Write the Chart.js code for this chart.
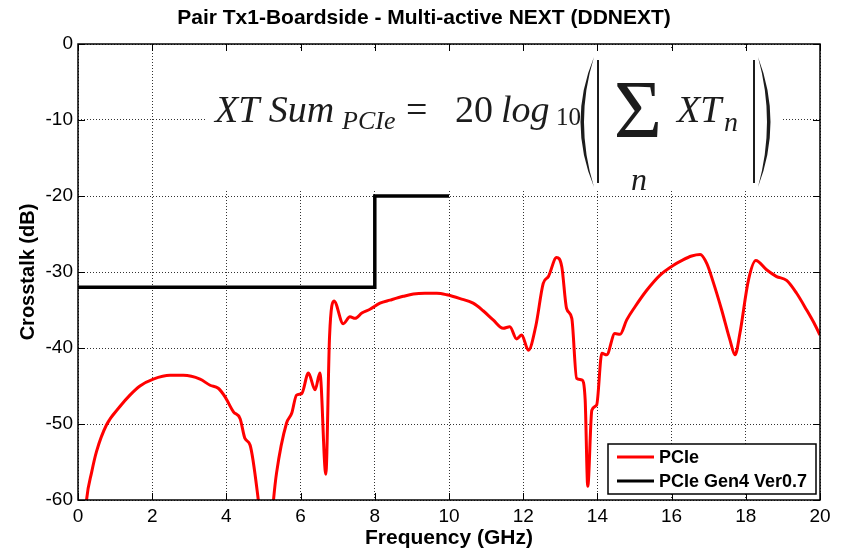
<!DOCTYPE html>
<html>
<head>
<meta charset="UTF-8">
<style>
  body { margin: 0; background: #fff; }
  #wrap { width: 848px; height: 549px; }
</style>
</head>
<body>
<div id="wrap"><canvas id="myChart" width="848" height="549"></canvas></div>
<script src="https://cdn.jsdelivr.net/npm/chart.js"></script>
<script>
var chartTitle = "Pair Tx1-Boardside - Multi-active NEXT (DDNEXT)";
var seriesNames = ["PCIe", "PCIe Gen4 Ver0.7"];

// PCIe summed crosstalk (GHz / dB)
var freqGHz = [0.20, 0.23, 0.37, 0.50, 0.77, 1.13, 1.40, 1.67, 2.03, 2.48, 2.84, 3.29, 3.56, 3.78, 3.96,
  4.19, 4.37, 4.50, 4.64, 4.86, 4.95, 5.10, 5.22, 5.27, 5.35, 5.62, 5.76, 5.89, 6.03, 6.21, 6.39, 6.52,
  6.68, 6.78, 6.90, 7.15, 7.33, 7.47, 7.65, 7.87, 8.14, 8.41, 8.77, 9.04, 9.35, 9.67, 9.94, 10.30, 10.65,
  10.92, 11.19, 11.46, 11.64, 11.82, 11.96, 12.14, 12.34, 12.54, 12.68, 12.90, 13.04, 13.17, 13.31, 13.44,
  13.58, 13.67, 13.74, 13.85, 13.98, 14.12, 14.25, 14.47, 14.61, 14.79, 15.01, 15.33, 15.69, 16.05, 16.27,
  16.54, 16.77, 16.95, 17.12, 17.35, 17.57, 17.71, 17.84, 18.07, 18.27, 18.56, 18.83, 19.10, 19.37, 19.64,
  19.87, 20.00];
var pcieDb = [-62, -60, -56.3, -53.6, -50.1, -47.7, -46.2, -45.0, -44.1, -43.6, -43.6, -44.1, -44.9, -45.3, -46.4,
  -48.4, -49.3, -51.9, -52.8, -60, -64, -68, -63, -60, -56.5, -49.9, -48.6, -46.2, -46.0, -43.3, -45.5, -43.3,
  -56.6, -38.5, -33.8, -36.8, -35.9, -36.1, -35.4, -34.9, -34.1, -33.7, -33.2, -32.9, -32.8, -32.8, -33.0, -33.5, -34.1,
  -35.1, -36.3, -37.4, -37.2, -38.8, -38.3, -40.3, -37.1, -31.5, -30.6, -28.1, -29.3, -34.8, -36.1, -44.0,
  -44.2, -46.8, -58.2, -48.2, -47.5, -40.7, -40.9, -38.1, -38.2, -36.3, -34.6, -32.4, -30.4, -29.1, -28.5,
  -27.9, -27.7, -28.9, -31.3, -35.0, -38.9, -40.9, -38.1, -31.1, -28.5, -29.7, -30.6, -31.1, -32.8, -35.0,
  -37.0, -38.3];

// Gen4 limit
var limitFreq = [0, 8, 8, 10];
var limitDb = [-32, -32, -20, -20];

var xTicks = [0, 2, 4, 6, 8, 10, 12, 14, 16, 18, 20];
var yTicks = [0, -10, -20, -30, -40, -50, -60];

function toPoints(xs, ys) {
  var out = [];
  for (var i = 0; i < xs.length; i++) out.push({ x: xs[i], y: ys[i] });
  return out;
}

var sans = "'Liberation Sans', Arial, sans-serif";
var serif = "'Liberation Serif', 'Times New Roman', serif";

// white box with the formula, drawn over the grid
var formulaPlugin = {
  id: "formula",
  beforeDatasetsDraw: function (chart) {
    var ctx = chart.ctx;
    ctx.save();
    ctx.fillStyle = "#fff";
    ctx.fillRect(207, 50, 576, 141);
    ctx.fillStyle = "#1c1c1c";
    ctx.textBaseline = "alphabetic";
    ctx.textAlign = "left";
    ctx.font = "italic 38px " + serif;
    ctx.fillText("XT Sum", 215, 122);
    ctx.font = "italic 26px " + serif;
    ctx.fillText("PCIe", 342, 129);
    ctx.font = "38px " + serif;
    ctx.fillText("=", 406, 122);
    ctx.fillText("20", 455, 122);
    ctx.font = "italic 38px " + serif;
    ctx.fillText("log", 501, 122);
    ctx.font = "25px " + serif;
    ctx.fillText("10", 556, 125);
    ctx.font = "83px " + serif;
    ctx.textAlign = "center";
    ctx.fillText("\u03A3", 638, 137);
    ctx.font = "italic 32px " + serif;
    ctx.fillText("n", 639, 190);
    ctx.textAlign = "left";
    ctx.font = "italic 38px " + serif;
    ctx.fillText("XT", 677, 122);
    ctx.font = "italic 28px " + serif;
    ctx.fillText("n", 724, 131);
    // big parentheses
    ctx.beginPath();
    ctx.moveTo(594, 57);
    ctx.quadraticCurveTo(567, 122, 594, 187);
    ctx.quadraticCurveTo(574, 122, 594, 57);
    ctx.fill();
    ctx.beginPath();
    ctx.moveTo(758, 57);
    ctx.quadraticCurveTo(783, 122, 758, 187);
    ctx.quadraticCurveTo(776, 122, 758, 57);
    ctx.fill();
    // absolute value bars
    ctx.strokeStyle = "#1c1c1c";
    ctx.lineWidth = 2;
    ctx.beginPath();
    ctx.moveTo(598, 60); ctx.lineTo(598, 183);
    ctx.moveTo(754, 60); ctx.lineTo(754, 183);
    ctx.stroke();
    ctx.restore();
  }
};

// frame, inward ticks and the boxed legend
var framePlugin = {
  id: "frame",
  afterDraw: function (chart) {
    var ctx = chart.ctx;
    var a = chart.chartArea;
    var xs = chart.scales.x, ys = chart.scales.y;
    ctx.save();
    ctx.strokeStyle = "#000";
    ctx.lineWidth = 1;
    ctx.beginPath();
    xs.ticks.forEach(function (t) {
      var px = Math.round(xs.getPixelForValue(t.value)) + 0.5;
      ctx.moveTo(px, a.bottom); ctx.lineTo(px, a.bottom - 7);
      ctx.moveTo(px, a.top); ctx.lineTo(px, a.top + 7);
    });
    ys.ticks.forEach(function (t) {
      var py = Math.round(ys.getPixelForValue(t.value)) + 0.5;
      ctx.moveTo(a.left, py); ctx.lineTo(a.left + 7, py);
      ctx.moveTo(a.right, py); ctx.lineTo(a.right - 7, py);
    });
    ctx.stroke();
    ctx.lineWidth = 1.5;
    ctx.strokeRect(a.left, a.top, a.right - a.left, a.bottom - a.top);

    // legend
    var bx = a.right - 212, by = a.bottom - 56, bw = 208, bh = 50;
    ctx.fillStyle = "#fff";
    ctx.fillRect(bx, by, bw, bh);
    ctx.lineWidth = 1.5;
    ctx.strokeRect(bx, by, bw, bh);
    ctx.font = "bold 18px " + sans;
    ctx.textBaseline = "middle";
    chart.data.datasets.forEach(function (ds, i) {
      var ly = by + 13 + i * 24;
      ctx.strokeStyle = ds.borderColor;
      ctx.lineWidth = 3;
      ctx.beginPath();
      ctx.moveTo(bx + 9, ly); ctx.lineTo(bx + 46, ly);
      ctx.stroke();
      ctx.fillStyle = "#000";
      ctx.fillText(ds.label, bx + 51, ly + 1);
    });
    ctx.restore();
  }
};

var gridOpts = { color: "rgba(0,0,0,0.8)", lineWidth: 1, drawTicks: false, borderDash: [1, 2], dash: [1, 2] };

var config = {
  type: "line",
  data: {
    datasets: [{
      label: seriesNames[0],
      data: toPoints(freqGHz, pcieDb),
      borderColor: "#ff0000",
      borderWidth: 3,
      pointRadius: 0,
      cubicInterpolationMode: "monotone",
      clip: 0
    }, {
      label: seriesNames[1],
      data: toPoints(limitFreq, limitDb),
      borderColor: "#000000",
      borderWidth: 3.5,
      pointRadius: 0,
      tension: 0,
      clip: 0
    }]
  },
  options: {
    responsive: false,
    animation: false,
    layout: { padding: 0 },
    plugins: {
      legend: { display: false },
      tooltip: { enabled: false },
      title: {
        display: true,
        text: chartTitle,
        color: "#000",
        font: { family: sans, size: 21, weight: "bold", lineHeight: 1.2 },
        padding: { top: 6, bottom: 12.8 }
      }
    },
    scales: {
      x: {
        type: "linear",
        min: 0,
        max: 20,
        afterBuildTicks: function (s) { s.ticks = xTicks.map(function (v) { return { value: v }; }); },
        afterFit: function (s) { s.height = 49; },
        grid: gridOpts,
        border: { display: false, dash: [1, 2] },
        ticks: { color: "#000", font: { family: sans, size: 19 }, padding: 5, maxRotation: 0, autoSkip: false },
        title: { display: true, text: "Frequency (GHz)", color: "#000", font: { family: sans, size: 21, weight: "bold", lineHeight: 1 }, padding: { top: 0, bottom: 0 } }
      },
      y: {
        min: -60,
        max: 0,
        afterBuildTicks: function (s) { s.ticks = yTicks.map(function (v) { return { value: v }; }); },
        afterFit: function (s) { s.width = 78; },
        grid: gridOpts,
        border: { display: false, dash: [1, 2] },
        ticks: { color: "#000", font: { family: sans, size: 19 }, padding: 5 },
        title: { display: true, text: "Crosstalk (dB)", color: "#000", font: { family: sans, size: 20, weight: "bold", lineHeight: 1 }, padding: { top: 18, bottom: 0 } }
      },
      // empty right axis, only keeps the right margin so the title stays centred on the page
      yRight: {
        position: "right",
        min: -60,
        max: 0,
        afterFit: function (s) { s.width = 28; },
        grid: { display: false, drawTicks: false },
        border: { display: false },
        ticks: { display: false }
      }
    }
  },
  plugins: [formulaPlugin, framePlugin]
};

window.myChart = new Chart(document.getElementById("myChart"), config);
</script>
</body>
</html>
